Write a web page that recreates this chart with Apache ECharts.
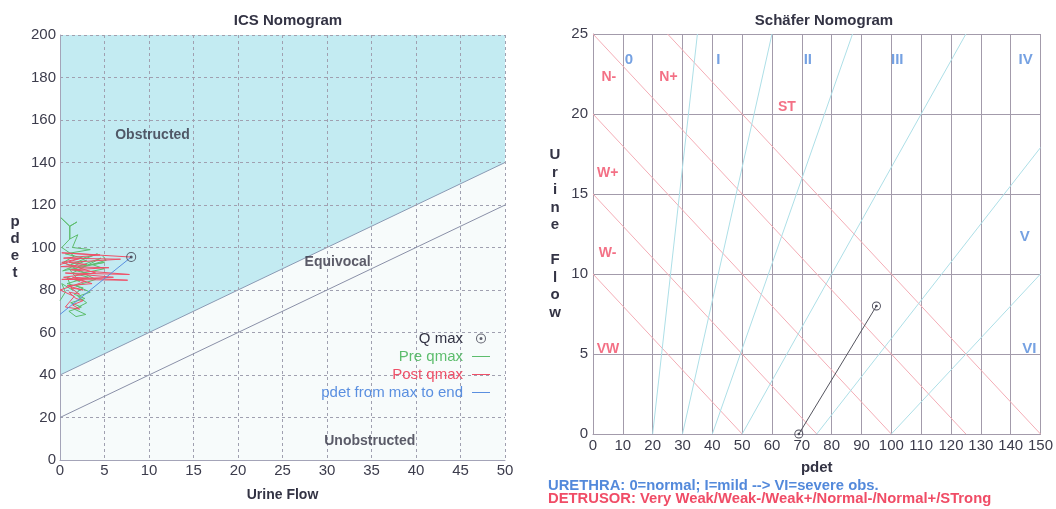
<!DOCTYPE html>
<html><head><meta charset="utf-8">
<script src="https://cdn.jsdelivr.net/npm/echarts@6/dist/echarts.min.js"></script>
<style>html,body{margin:0;padding:0;background:#fff}#c{width:1056px;height:509px}</style>
</head><body><div id="c"></div>
<script>
// ---------- ICS nomogram data (flow, pdet) ----------
const preQmax = [
  [0.0,75],[0.6,79],[0.2,83],[1.4,80],[0.8,86],[2.2,84],[1.0,90],[2.8,88],[0.4,93],[1.6,96],
  [0.2,100],[1.1,104],[1.1,110],[0.1,114],[1.1,110],[1.9,112],[1.1,110],[1.1,104],[2.0,106],[1.4,100],
  [3.4,99],[0.6,97],[2.6,95],[4.2,97],[1.2,92],[3.0,94],[0.3,89],[5.0,93],[2.0,91],[4.6,95],
  [1.4,88],[3.2,86],[0.8,83],[2.6,81],[1.6,78],[2.8,76],[1.2,74],[2.4,72],[1.0,70],[1.8,67.5],
  [2.9,68.5],[1.6,71],[3.0,74],[2.0,77],[3.4,79],[1.8,82],[4.0,85],[2.6,88],[5.0,90],[3.6,92],[5.2,94],[4.8,96]
];
const postQmax = [
  [8.0,95.5],[0.2,97.5],[4.5,96.5],[0.4,95],[6.8,94.5],[1.0,93],[3.0,92],[0.1,91],[5.5,90.5],[1.2,89.5],
  [7.8,87.3],[0.6,88],[6.0,86],[0.2,85],[7.6,84.6],[1.4,86],[3.6,83],[0.8,82],[2.6,80],[1.2,81],
  [2.2,78],[1.0,79],[1.8,76],[2.6,75],[1.4,73],[2.2,71],[0.6,72],[1.6,77],[0.0,80],[2.8,84],
  [0.4,86],[4.0,88],[0.2,93],[2.4,95],[0.0,92]
];
const pdetMaxToEnd = [[8.0,95.5],[0.0,68.5]];
const qmaxPoint = [[8.0,95.5]];
const icsUpperBoundary = [[0,40],[50,140]];
const icsLowerBoundary = [[0,20],[50,120]];
const icsZoneNames = ['Obstructed','Equivocal','Unobstructed'];
const icsZonePos = [[10.4,153],[31.2,93.2],[34.8,8.9]];
const legendNames = ['Q max','Pre qmax','Post qmax','pdet from max to end'];

// ---------- Schäfer nomogram data (pdet, flow) ----------
const schaferPath = [[69,0],[95,8]];
const detrusorLines = [
  [[0,10],[50,0]], [[0,15],[75,0]], [[0,20],[100,0]], [[0,25],[125,0]], [[25,25],[150,0]]
];
const urethraLines = [
  [[20,0],[35,25]], [[30,0],[60,25]], [[40,0],[87,25]], [[50,0],[125,25]], [[75,0],[150,17.9]], [[100,0],[150,10]]
];
const urethraGrades = ['0','I','II','III','IV','V','VI'];
const urethraGradePos = [[12,23.4],[42,23.4],[72,23.4],[102,23.4],[145,23.4],[144.7,12.3],[146.3,5.3]];
const detrusorGrades = ['N-','N+','ST','W+','W-','VW'];
const detrusorGradePos = [[5.3,22.3],[25.3,22.3],[65,20.4],[4.9,16.3],[4.9,11.3],[5,5.3]];

const FONT = '"Liberation Sans", Arial, sans-serif';
const dotCircle = 'path://M10,0A10,10,0,1,1,10,20A10,10,0,1,1,10,0ZM10,2A8,8,0,1,0,10,18A8,8,0,1,0,10,2ZM10,7A3,3,0,1,1,10,13A3,3,0,1,1,10,7Z';
const lineIcon = 'path://M0,0H18V1H0Z';
const C = {green:'#5dbd6d', red:'#ef5068', blue:'#5a8fe0', dark:'#333344', lblBlue:'#5389db', lblRed:'#f04c66'};

function labelSeries(names, pos, color, xi, yi, size) {
  return {
    type:'scatter', xAxisIndex:xi, yAxisIndex:yi, symbolSize:1, silent:true, z:6,
    itemStyle:{color:'transparent'},
    label:{show:true, position:'inside', formatter:'{b}', color:color, fontSize:size, fontWeight:'bold', fontFamily:FONT},
    data: names.map((n,i)=>({name:n, value:pos[i]}))
  };
}

const axisLabelStyle = {fontSize:15, color:'#3c3c4c', fontFamily:FONT};
const leftSplit = {show:true, lineStyle:{color:'#a0a0b0', type:[3,3], width:1}};
const rightSplit = {show:true, lineStyle:{color:'#a39bab', width:1}};

const option = {
  backgroundColor:'#ffffff',
  animation:false,
  title:[
    {text:'ICS Nomogram', left:283, top:8, textAlign:'center', textStyle:{fontSize:15, fontWeight:'bold', color:'#333344', fontFamily:FONT}},
    {text:'Schäfer Nomogram', left:819, top:8, textAlign:'center', textStyle:{fontSize:15, fontWeight:'bold', color:'#333344', fontFamily:FONT}},
    {text:'{u|URETHRA: 0=normal; I=mild --> VI=severe obs.}\n{d|DETRUSOR: Very Weak/Weak-/Weak+/Normal-/Normal+/STrong}',
     left:543, top:475,
     textStyle:{fontFamily:FONT, rich:{
       u:{color:C.lblBlue, fontSize:14.8, fontWeight:'bold', lineHeight:12.5, fontFamily:FONT},
       d:{color:C.lblRed, fontSize:14.8, fontWeight:'bold', lineHeight:12.5, fontFamily:FONT}}}}
  ],
  legend:{
    data:[
      {name:legendNames[0], textStyle:{color:C.dark}},
      {name:legendNames[1], icon:lineIcon, textStyle:{color:C.green}},
      {name:legendNames[2], icon:lineIcon, textStyle:{color:C.red}},
      {name:legendNames[3], icon:lineIcon, textStyle:{color:C.blue}}
    ],
    orient:'vertical', align:'right', right:561, top:326,
    itemWidth:18, itemHeight:10, itemGap:3, selectedMode:false, symbolKeepAspect:true,
    textStyle:{fontSize:15, lineHeight:15, fontFamily:FONT, padding:[0,4,0,0]}
  },
  grid:[
    {left:60, right:551, top:35, bottom:49, show:true, backgroundColor:'#f7fbfb', borderWidth:0},
    {left:593, right:13, top:34, bottom:75, show:true, backgroundColor:'#ffffff', borderWidth:0}
  ],
  xAxis:[
    {type:'value', gridIndex:0, min:0, max:50, interval:5, z:2.5,
     axisLine:{show:true, lineStyle:{color:'#a4a4b8'}}, axisTick:{show:false},
     splitLine:leftSplit, axisLabel:Object.assign({margin:3}, axisLabelStyle),
     name:'Urine Flow', nameLocation:'middle', nameGap:28,
     nameTextStyle:{fontSize:14, fontWeight:'bold', color:'#333344', fontFamily:FONT}},
    {type:'value', gridIndex:1, min:0, max:150, interval:10,
     axisLine:{show:true, lineStyle:{color:'#a39bab'}}, axisTick:{show:false},
     splitLine:rightSplit, axisLabel:Object.assign({margin:4}, axisLabelStyle),
     name:'pdet', nameLocation:'middle', nameGap:26,
     nameTextStyle:{fontSize:15, fontWeight:'bold', color:'#333344', fontFamily:FONT}}
  ],
  yAxis:[
    {type:'value', gridIndex:0, min:0, max:200, interval:20, z:2.5,
     axisLine:{show:true, lineStyle:{color:'#a4a4b8'}}, axisTick:{show:false},
     splitLine:leftSplit, axisLabel:Object.assign({margin:4}, axisLabelStyle),
     name:'p\nd\ne\nt', nameLocation:'middle', nameRotate:0, nameGap:45,
     nameTextStyle:{fontSize:15, fontWeight:'bold', color:'#333344', fontFamily:FONT, lineHeight:17, align:'center', verticalAlign:'middle', padding:[10,0,0,0]}},
    {type:'value', gridIndex:1, min:0, max:25, interval:5,
     axisLine:{show:true, lineStyle:{color:'#a39bab'}}, axisTick:{show:false},
     splitLine:rightSplit, axisLabel:Object.assign({margin:5}, axisLabelStyle),
     name:'U\nr\ni\nn\ne\n\nF\nl\no\nw', nameLocation:'middle', nameRotate:0, nameGap:38,
     nameTextStyle:{fontSize:15, fontWeight:'bold', color:'#333344', fontFamily:FONT, lineHeight:17.5, align:'center', verticalAlign:'middle', padding:[45,0,0,0]}}
  ],
  series:[
    {type:'line', xAxisIndex:0, yAxisIndex:0, data:icsUpperBoundary, symbol:'none', silent:true, z:1,
     lineStyle:{color:'#8a9ab4', width:1}, areaStyle:{origin:'end', color:'#c3ebf2', opacity:1}},
    {type:'line', xAxisIndex:0, yAxisIndex:0, data:icsLowerBoundary, symbol:'none', silent:true, z:3,
     lineStyle:{color:'#8a90a8', width:1}},
    {name:legendNames[1], type:'line', xAxisIndex:0, yAxisIndex:0, data:preQmax, symbol:'none', z:4,
     itemStyle:{color:C.green}, lineStyle:{color:C.green, width:1}},
    {name:legendNames[2], type:'line', xAxisIndex:0, yAxisIndex:0, data:postQmax, symbol:'none', z:4,
     itemStyle:{color:C.red}, lineStyle:{color:C.red, width:1}},
    {name:legendNames[3], type:'line', xAxisIndex:0, yAxisIndex:0, data:pdetMaxToEnd, symbol:'none', z:5,
     itemStyle:{color:C.blue}, lineStyle:{color:C.blue, width:1}},
    {name:legendNames[0], type:'scatter', xAxisIndex:0, yAxisIndex:0, data:qmaxPoint, symbol:dotCircle, symbolSize:10, z:6,
     itemStyle:{color:'#3a3a48'}},
    labelSeries(icsZoneNames, icsZonePos, '#333344', 0, 0, 14),

    {type:'lines', coordinateSystem:'cartesian2d', xAxisIndex:1, yAxisIndex:1, silent:true, z:3,
     lineStyle:{color:'#f4adb6', width:1, opacity:1},
     data: detrusorLines.map(c=>({coords:c}))},
    {type:'lines', coordinateSystem:'cartesian2d', xAxisIndex:1, yAxisIndex:1, silent:true, z:3,
     lineStyle:{color:'#addfe7', width:1, opacity:1},
     data: urethraLines.map(c=>({coords:c}))},
    {type:'line', xAxisIndex:1, yAxisIndex:1, data:schaferPath, symbol:dotCircle, symbolSize:9, showSymbol:true, z:5, clip:false,
     itemStyle:{color:'#4a4a58'}, lineStyle:{color:'#55555f', width:1}},
    labelSeries(urethraGrades, urethraGradePos, C.lblBlue, 1, 1, 15),
    labelSeries(detrusorGrades, detrusorGradePos, C.lblRed, 1, 1, 14)
  ]
};
const chart = echarts.init(document.getElementById('c'), null, {renderer:'canvas'});
chart.setOption(option);
</script></body></html>
